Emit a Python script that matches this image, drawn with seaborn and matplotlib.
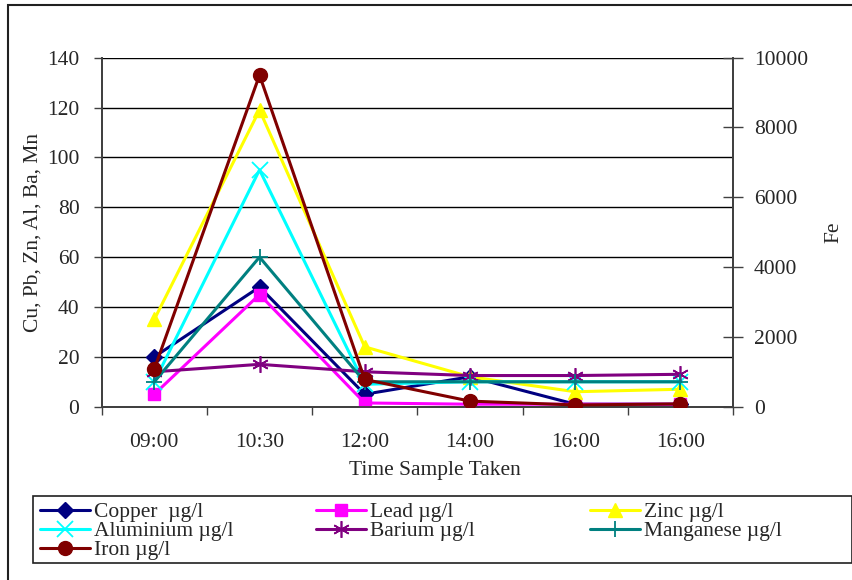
import numpy as np
import pandas as pd
import matplotlib
matplotlib.use("Agg")
import matplotlib.pyplot as plt
from matplotlib.patches import Rectangle
import seaborn as sns

# ---- data ----
times = ["09:00", "10:30", "12:00", "14:00", "16:00", "16:00"]
copper = [20, 48, 5, 12, 1, 1]
lead = [5, 45, 1.5, 1, 1, 1]
zinc = [35, 119, 24, 12, 6, 7]
aluminium = [10, 95, 9, 10, 10, 10]
barium = [14, 17, 14, 12.5, 12.5, 13]
manganese = [10, 60, 10, 10, 10, 10]
iron = [1080, 9500, 780, 160, 50, 80]

left_ticks = [0, 20, 40, 60, 80, 100, 120, 140]
right_ticks = [0, 2000, 4000, 6000, 8000, 10000]

sns.set_style("white")
plt.rcParams['font.family'] = ['Liberation Serif', 'DejaVu Serif']
FS = 15.5

W, H = 853, 580
fig = plt.figure(figsize=(W / 100, H / 100), dpi=100)
ax = fig.add_axes([101.7 / W, 1 - 406.7 / H, (733 - 101.7) / W, (406.7 - 57.7) / H])
ax2 = ax.twinx()

pos = np.arange(len(times))
df = pd.DataFrame({"pos": pos, "Copper": copper, "Lead": lead, "Zinc": zinc,
                   "Aluminium": aluminium, "Barium": barium,
                   "Manganese": manganese, "Iron": iron})

series = [
    ("Copper", "Copper  µg/l", "#000080", "D", 8, 1.0, ax),
    ("Lead", "Lead µg/l", "#FF00FF", "s", 9, 1.0, ax),
    ("Zinc", "Zinc µg/l", "#FFFF00", "^", 10, 1.0, ax),
    ("Aluminium", "Aluminium µg/l", "#00FFFF", "x", 11, 1.3, ax),
    ("Barium", "Barium µg/l", "#800080", (6, 2, 0), 12, 1.2, ax),
    ("Manganese", "Manganese µg/l", "#008080", "+", 12, 1.3, ax),
    ("Iron", "Iron µg/l", "#800000", "o", 10, 1.0, ax2),
]

handles = {}
for col, lab, c, m, ms, mew, a in series:
    sns.lineplot(data=df, x="pos", y=col, ax=a, color=c, marker=m, markersize=ms,
                 markeredgecolor=c, markerfacecolor=c, markeredgewidth=mew,
                 linewidth=2.2, label=lab, legend=False, zorder=3)
    handles[col] = a.get_lines()[-1]

ax.set_xlim(-0.5, len(times) - 0.5)
ax.set_ylim(0, 140)
ax2.set_ylim(0, 10000)
ax.set_yticks(left_ticks)
ax2.set_yticks(right_ticks)
ax.set_xticks(pos)
ax.set_xticklabels(times)
ax.set_xticks(np.arange(-0.5, len(times)), minor=True)

ax.grid(axis="y", color="black", linewidth=1.0)
ax.set_axisbelow(True)

spc = "#404040"
for a in (ax, ax2):
    a.spines["top"].set_visible(False)
    for s in ("left", "right", "bottom"):
        a.spines[s].set_color(spc)
        a.spines[s].set_linewidth(1.3)

ax.tick_params(axis="y", which="major", direction="out", length=6, width=1, color=spc,
               labelsize=FS, left=True, pad=10)
ax.tick_params(axis="x", which="major", length=0, labelsize=FS, pad=19)
ax.tick_params(axis="x", which="minor", direction="out", length=6, width=1, color=spc, bottom=True)
ax2.tick_params(axis="y", direction="inout", length=14, width=1, color=spc, labelsize=FS,
                right=True, pad=8)

ax.set_xlabel("Time Sample Taken", fontsize=FS)
ax.set_ylabel("Cu, Pb, Zn, Al, Ba, Mn", fontsize=FS, labelpad=3)
ax2.set_ylabel("Fe", fontsize=FS, labelpad=12)
ax.xaxis.set_label_coords(0.527, -0.155)

# outer frame of the chart area
fig.patches.append(Rectangle((8 / W, -0.05), 1.1, 1 - 5 / H + 0.05, transform=fig.transFigure,
                             fill=False, edgecolor="#202020", linewidth=1.5))

# legend: three equally spaced columns inside one frame
labmap = {s[0]: s[1] for s in series}
columns = [(["Copper", "Aluminium", "Iron"], 40),
           (["Lead", "Barium"], 316),
           (["Zinc", "Manganese"], 590)]
for keys, x0 in columns:
    lg = fig.legend([handles[k] for k in keys], [labmap[k] for k in keys],
                    loc="upper left", bbox_to_anchor=(x0 / W, 1 - 502 / H),
                    bbox_transform=fig.transFigure, frameon=False,
                    fontsize=FS, labelspacing=-0.05, handlelength=2.3,
                    handletextpad=0.2, borderpad=0, borderaxespad=0)
fig.patches.append(Rectangle((33 / W, 1 - 563 / H), (852 - 33) / W, 67 / H,
                             transform=fig.transFigure, fill=False,
                             edgecolor="#202020", linewidth=1.2))

fig.savefig("out.png", dpi=100)
